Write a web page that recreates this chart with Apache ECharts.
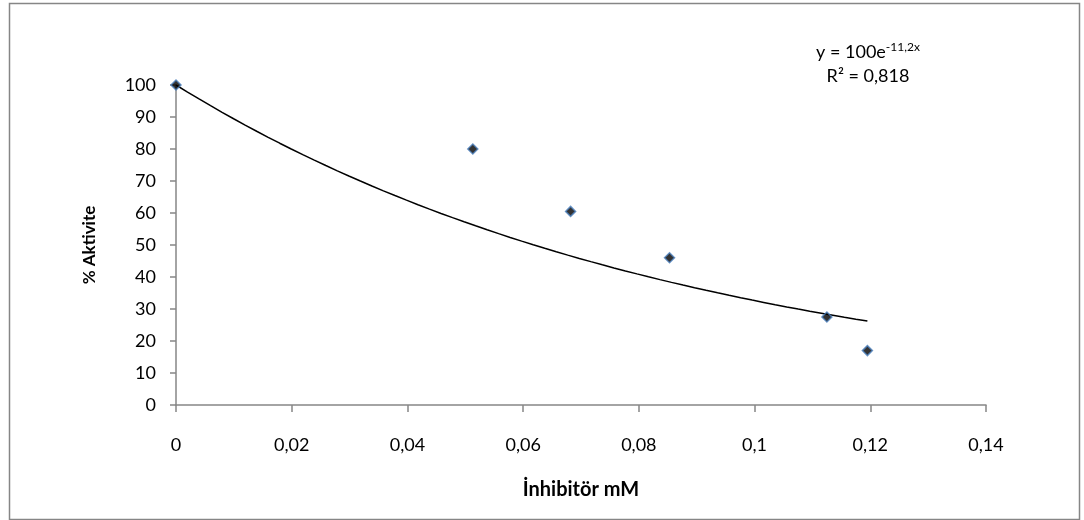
<!DOCTYPE html>
<html>
<head>
<meta charset="utf-8">
<script src="https://cdn.jsdelivr.net/npm/echarts@6/dist/echarts.min.js"></script>
<style>html,body{margin:0;padding:0;background:#fff}#c{width:1084px;height:520px}</style>
</head>
<body>
<div id="c"></div>
<script>
// Data
var inhibitorMM = [0, 0.0513, 0.0682, 0.0853, 0.1125, 0.1195];
var activity = [100, 80, 60.5, 46, 27.5, 17];
// Trendline coefficients as displayed: y = 100 e^(-11.2x)
var trendA = 100;
var trendB = -11.2;
var xTicks = ['0', '0,02', '0,04', '0,06', '0,08', '0,1', '0,12', '0,14'];

var scatterData = inhibitorMM.map(function (x, i) { return [x, activity[i]]; });
var xMax = Math.max.apply(null, inhibitorMM);
var trend = [];
for (var k = 0; k <= 60; k++) {
  var x = xMax * k / 60;
  trend.push([x, trendA * Math.exp(trendB * x)]);
}

var font = 'Lato, "Open Sans", sans-serif';
var chart = echarts.init(document.getElementById('c'), null, { renderer: 'canvas' });
chart.setOption({
  animation: false,
  backgroundColor: '#fff',
  grid: { left: 176, right: 98, top: 85, bottom: 115, containLabel: false },
  xAxis: {
    type: 'value', min: 0, max: 0.14, interval: 0.02,
    name: 'İnhibitör mM', nameLocation: 'middle', nameGap: 75,
    nameTextStyle: { fontFamily: font, fontWeight: 'bold', fontSize: 20, color: '#000' },
    axisLine: { onZero: false, lineStyle: { color: '#868686', width: 1.5 } },
    axisTick: { show: true, length: 7, lineStyle: { color: '#868686', width: 1.5 } },
    axisLabel: { margin: 31, fontFamily: font, fontSize: 18, color: '#000',
      formatter: function (v) { return xTicks[Math.round(v / 0.02)]; } },
    splitLine: { show: false }
  },
  yAxis: {
    type: 'value', min: 0, max: 100, interval: 10,
    name: '% Aktivite', nameLocation: 'middle', nameGap: 78, nameRotate: 90,
    nameTextStyle: { fontFamily: font, fontWeight: 'bold', fontSize: 17, color: '#000' },
    axisLine: { show: true, lineStyle: { color: '#868686', width: 1.5 } },
    axisTick: { show: true, length: 6, lineStyle: { color: '#868686', width: 1.5 } },
    axisLabel: { margin: 20, fontFamily: font, fontSize: 18, color: '#000' },
    splitLine: { show: false }
  },
  series: [
    {
      type: 'line', data: trend, showSymbol: false, smooth: false,
      lineStyle: { color: '#000', width: 1.5 }, z: 2, silent: true
    },
    {
      type: 'scatter', data: scatterData, symbol: 'diamond', symbolSize: 10,
      itemStyle: { color: '#000', borderColor: '#4a7ebb', borderWidth: 1.5 }, z: 3
    }
  ],
  graphic: [
    { type: 'rect', left: 7, top: 1, z: -1,
      shape: { width: 1070, height: 516 },
      style: { fill: 'none', stroke: '#868686', lineWidth: 1.5 } },
    { type: 'text', x: 868, y: 52,
      style: { align: 'center', verticalAlign: 'middle', rich: {
          a: { fontFamily: font, fontSize: 18, fill: '#000' },
          s: { fontFamily: font, fontSize: 12, fill: '#000', padding: [0, 0, 10, 0] }
        },
        text: '{a|y = 100e}{s|-11,2x}' } },
    { type: 'text', x: 868, y: 76,
      style: { align: 'center', verticalAlign: 'middle', text: 'R² = 0,818', fontFamily: font, fontSize: 18, fill: '#000' } }
  ]
});
</script>
</body>
</html>
